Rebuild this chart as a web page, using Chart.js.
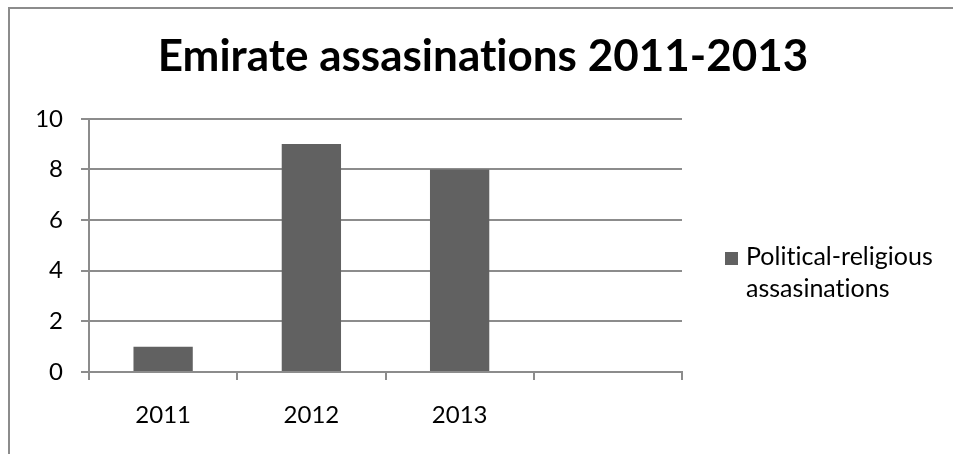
<!DOCTYPE html>
<html>
<head>
<meta charset="utf-8">
<title>Emirate assasinations 2011-2013</title>
<script src="https://cdn.jsdelivr.net/npm/chart.js@4.4.0/dist/chart.umd.min.js"></script>
<style>
    html, body { margin: 0; padding: 0; background: #fff; }
    #chartWrap { position: relative; width: 953px; height: 454px; }
</style>
</head>
<body>
<div id="chartWrap"><canvas id="assasinationsChart" width="953" height="454"></canvas></div>
<script>
    // --- Data ---
    const categories = ['2011', '2012', '2013', ''];
    const assasinations = [1, 9, 8, null];
    const yTicks = [0, 2, 4, 6, 8, 10];
    const seriesLabel = ['Political-religious', 'assasinations'];

    const lineGray = '#8c8c8c';
    const barGray = '#616161';
    const fontFamily = 'Lato, "Open Sans", sans-serif';

    // outer frame (only left and top edges show in the picture)
    const framePlugin = {
        id: 'frame',
        beforeDraw(chart) {
            const ctx = chart.ctx;
            // tiny letter spacing keeps Lato from joining "ti" into a ligature
            ctx.letterSpacing = '0.01px';
            ctx.save();
            ctx.strokeStyle = lineGray;
            ctx.lineWidth = 2;
            ctx.beginPath();
            ctx.moveTo(9, chart.height);
            ctx.lineTo(9, 8);
            ctx.lineTo(chart.width, 8);
            ctx.stroke();
            ctx.restore();
        }
    };

    // legend on the right, label wrapped on two lines
    const sideLegend = {
        id: 'sideLegend',
        afterDraw(chart) {
            const ctx = chart.ctx;
            const area = chart.chartArea;
            const ds = chart.data.datasets[0];
            const x = area.right + 43;
            const y = 252;
            ctx.save();
            ctx.fillStyle = ds.backgroundColor;
            ctx.fillRect(x, y, 13, 13);
            ctx.fillStyle = '#000';
            ctx.font = '25px ' + fontFamily;
            ctx.textBaseline = 'alphabetic';
            ds.labelLines.forEach(function (line, i) {
                ctx.fillText(line, x + 21, y + 13 + i * 32);
            });
            ctx.restore();
        }
    };

    new Chart(document.getElementById('assasinationsChart'), {
        type: 'bar',
        data: {
            labels: categories,
            datasets: [{
                label: seriesLabel.join(' '),
                labelLines: seriesLabel,
                data: assasinations,
                backgroundColor: barGray,
                borderWidth: 0,
                barPercentage: 0.4,
                categoryPercentage: 1
            }]
        },
        options: {
            responsive: false,
            animation: false,
            layout: { padding: { left: 13, right: 0, top: 0, bottom: 0 } },
            plugins: {
                legend: { display: false },
                tooltip: { enabled: false },
                title: {
                    display: true,
                    text: 'Emirate assasinations 2011-2013',
                    color: '#000',
                    font: { family: fontFamily, size: 44, weight: 'bold', lineHeight: 1.2 },
                    padding: { top: 30, bottom: 36 }
                }
            },
            scales: {
                x: {
                    grid: {
                        drawOnChartArea: false,
                        drawTicks: true,
                        tickLength: 8,
                        color: lineGray,
                        lineWidth: 2
                    },
                    border: { display: true, color: lineGray, width: 2 },
                    ticks: {
                        color: '#000',
                        padding: 21,
                        font: { family: fontFamily, size: 24 }
                    },
                    afterFit(scale) { scale.height = 82; }
                },
                y: {
                    min: 0,
                    max: 10,
                    grid: {
                        color: lineGray,
                        lineWidth: 2,
                        tickLength: 8
                    },
                    border: { display: true, color: lineGray, width: 2 },
                    ticks: {
                        color: '#000',
                        padding: 18,
                        font: { family: fontFamily, size: 24 }
                    },
                    afterBuildTicks(scale) {
                        scale.ticks = yTicks.map(function (v) { return { value: v }; });
                    },
                    afterFit(scale) { scale.width = 76; }
                },
                // empty axis that keeps room on the right for the legend
                legendSpace: {
                    type: 'linear',
                    position: 'right',
                    display: true,
                    grid: { display: false },
                    border: { display: false },
                    ticks: { display: false },
                    afterFit(scale) { scale.width = 271; }
                }
            }
        },
        plugins: [framePlugin, sideLegend]
    });
</script>
</body>
</html>
